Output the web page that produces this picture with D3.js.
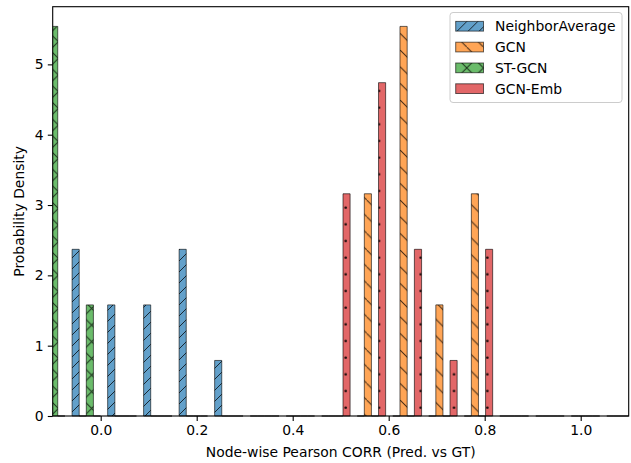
<!DOCTYPE html>
<html>
<head>
<meta charset="utf-8">
<script src="https://cdn.jsdelivr.net/npm/d3@7"></script>
<style>
  body { margin: 0; background: #fff; }
  text { font-family: "DejaVu Sans", sans-serif; }
</style>
</head>
<body>
<div id="chart"></div>
<script>
// histogram bin edges (17 bins) and density per bin for each model
var binEdges = [-0.142, -0.067, 0.007, 0.082, 0.156, 0.230, 0.304, 0.379, 0.453,
                0.527, 0.601, 0.676, 0.750, 0.824, 0.899, 0.973, 1.047, 1.121];
var neighborAverage = [0, 2.37, 1.58, 1.58, 2.37, 0.79, 0, 0, 0, 0, 0, 0, 0, 0, 0, 0, 0];
var gcn             = [0, 0, 0, 0, 0, 0, 0, 0, 0, 3.16, 5.54, 1.58, 3.16, 0, 0, 0, 0];
var stGcn           = [5.54, 1.58, 0, 0, 0, 0, 0, 0, 0, 0, 0, 0, 0, 0, 0, 0, 0];
var gcnEmb          = [0, 0, 0, 0, 0, 0, 0, 0, 3.16, 4.74, 2.37, 0.79, 2.37, 0, 0, 0, 0];

var seriesNames = ['NeighborAverage', 'GCN', 'ST-GCN', 'GCN-Emb'];
var seriesValues = [neighborAverage, gcn, stGcn, gcnEmb];
var seriesColors = ['#1f77b4', '#ff7f0e', '#2ca02c', '#d62728'];
var seriesHatch = ['fwd', 'back', 'cross', 'dots'];

var xTicks = [0.0, 0.2, 0.4, 0.6, 0.8, 1.0];
var yTicks = [0, 1, 2, 3, 4, 5];

function drawChart() {
    var width = 631, height = 463;
    var plotLeft = 52.7, plotRight = 628.7, plotTop = 6.7, plotBottom = 416;

    var svg = d3.select('#chart').append('svg')
        .attr('width', width)
        .attr('height', height);

    var x = d3.scaleLinear().domain([-0.1, 1.1]).range([plotLeft, plotRight]);
    var y = d3.scaleLinear().domain([0, 5.82]).range([plotBottom, plotTop]);

    // position of each series inside a bin (matplotlib rwidth 0.8 split in 4)
    var inner = d3.scaleBand().domain(seriesNames).range([0.1, 0.9]);

    var defs = svg.append('defs');
    defs.append('clipPath').attr('id', 'plotclip')
      .append('rect')
        .attr('x', plotLeft).attr('y', 0)
        .attr('width', plotRight - plotLeft).attr('height', plotBottom + 2);

    // hatch patterns
    var p = defs.append('pattern').attr('id', 'fwd').attr('patternUnits', 'userSpaceOnUse')
        .attr('width', 11).attr('height', 11);
    p.append('path').attr('d', 'M-1,1 L1,-1 M0,11 L11,0 M10,12 L12,10')
        .attr('stroke', '#000').attr('stroke-opacity', 0.75).attr('stroke-width', 1);

    p = defs.append('pattern').attr('id', 'back').attr('patternUnits', 'userSpaceOnUse')
        .attr('width', 16.67).attr('height', 16.67);
    p.append('path').attr('d', 'M-1,-1 L1,1 M0,0 L16.67,16.67 M15.67,15.67 L17.67,17.67')
        .attr('stroke', '#000').attr('stroke-opacity', 0.75).attr('stroke-width', 1);

    p = defs.append('pattern').attr('id', 'cross').attr('patternUnits', 'userSpaceOnUse')
        .attr('width', 16.67).attr('height', 16.67);
    p.append('path').attr('d', 'M0,0 L16.67,16.67 M0,16.67 L16.67,0')
        .attr('stroke', '#000').attr('stroke-opacity', 0.75).attr('stroke-width', 1);

    p = defs.append('pattern').attr('id', 'dots').attr('patternUnits', 'userSpaceOnUse')
        .attr('width', 8.33).attr('height', 16.67);
    p.append('circle').attr('cx', 4.2).attr('cy', 7.6).attr('r', 1.3)
        .attr('fill', '#000').attr('fill-opacity', 0.9);

    // bars
    var plot = svg.append('g').attr('clip-path', 'url(#plotclip)');

    seriesNames.forEach(function(name, i) {
        var bins = seriesValues[i].map(function(v, k) {
            var e0 = binEdges[k], e1 = binEdges[k + 1];
            return {
                x0: e0 + inner(name) * (e1 - e0),
                x1: e0 + (inner(name) + inner.bandwidth()) * (e1 - e0),
                v: v
            };
        });
        var barPath = function(d) {
            return 'M' + x(d.x0) + ',' + y(0) + 'H' + x(d.x1) + 'V' + y(d.v) + 'H' + x(d.x0) + 'Z';
        };
        var g = plot.append('g').attr('class', 'series');
        g.selectAll('.fill').data(bins).enter().append('path')
            .attr('d', barPath)
            .attr('fill', seriesColors[i])
            .attr('fill-opacity', 0.7);
        g.selectAll('.hatch').data(bins).enter().append('path')
            .attr('d', barPath)
            .attr('fill', 'url(#' + seriesHatch[i] + ')');
        g.selectAll('.edge').data(bins).enter().append('path')
            .attr('d', barPath)
            .attr('fill', 'none')
            .attr('stroke', '#000')
            .attr('stroke-opacity', 0.6)
            .attr('stroke-width', 1);
    });

    // axes
    var xAxis = svg.append('g')
        .attr('transform', 'translate(0,' + plotBottom + ')')
        .call(d3.axisBottom(x).tickValues(xTicks).tickFormat(d3.format('.1f'))
            .tickSize(4.9).tickPadding(4.2));
    var yAxis = svg.append('g')
        .attr('transform', 'translate(' + plotLeft + ',0)')
        .call(d3.axisLeft(y).tickValues(yTicks).tickFormat(d3.format('d'))
            .tickSize(4.9).tickPadding(4.2));
    [xAxis, yAxis].forEach(function(a) {
        a.select('.domain').remove();
        a.selectAll('line').attr('stroke', '#000').attr('stroke-width', 1.1);
        a.selectAll('text').attr('fill', '#000')
            .style('font-family', '"DejaVu Sans", sans-serif').style('font-size', '13.9px');
    });

    svg.append('rect')
        .attr('x', plotLeft).attr('y', plotTop)
        .attr('width', plotRight - plotLeft).attr('height', plotBottom - plotTop)
        .attr('fill', 'none').attr('stroke', '#000').attr('stroke-width', 1.1);

    svg.append('text')
        .attr('x', (plotLeft + plotRight) / 2).attr('y', 457)
        .attr('text-anchor', 'middle')
        .style('font-size', '13.9px')
        .text('Node-wise Pearson CORR (Pred. vs GT)');

    svg.append('text')
        .attr('transform', 'translate(24,' + (plotTop + plotBottom) / 2 + ') rotate(-90)')
        .attr('text-anchor', 'middle')
        .style('font-size', '13.9px')
        .text('Probability Density');

    // legend
    var legend = svg.append('g');
    legend.append('rect')
        .attr('x', 450).attr('y', 12.5).attr('width', 172).attr('height', 90)
        .attr('rx', 3).attr('ry', 3)
        .attr('fill', '#fff').attr('fill-opacity', 0.8)
        .attr('stroke', '#cccccc').attr('stroke-width', 1);

    var items = legend.selectAll('.item').data(seriesNames).enter().append('g')
        .attr('transform', function(d, i) { return 'translate(0,' + (26.3 + i * 20.8) + ')'; });
    items.append('rect')
        .attr('x', 455.7).attr('y', -4.9).attr('width', 27.8).attr('height', 9.7)
        .attr('fill', function(d, i) { return seriesColors[i]; })
        .attr('fill-opacity', 0.7);
    items.append('rect')
        .attr('x', 455.7).attr('y', -4.9).attr('width', 27.8).attr('height', 9.7)
        .attr('fill', function(d, i) { return 'url(#' + seriesHatch[i] + ')'; })
        .attr('stroke', '#000').attr('stroke-opacity', 0.6).attr('stroke-width', 1);
    items.append('text')
        .attr('x', 495).attr('y', 0).attr('dy', '0.35em')
        .style('font-size', '13.9px')
        .text(function(d) { return d; });
}

drawChart();
</script>
</body>
</html>
